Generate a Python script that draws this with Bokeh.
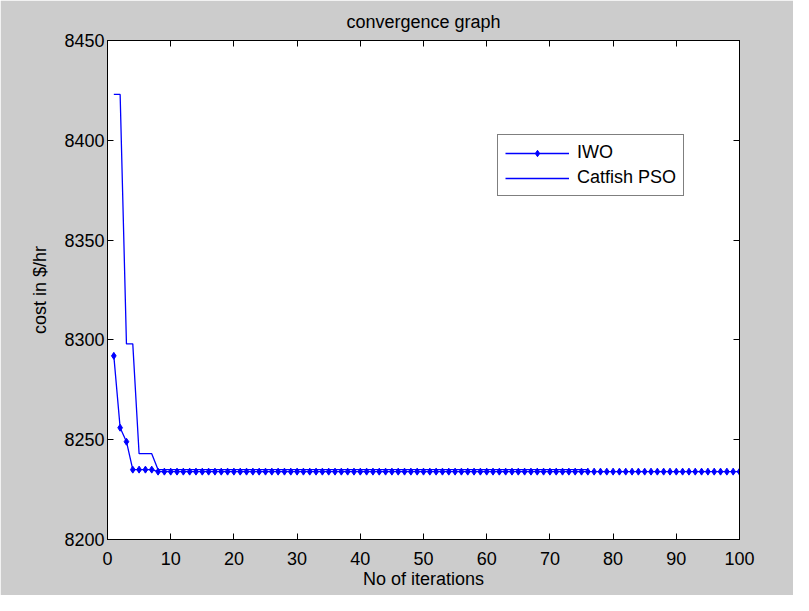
from bokeh.plotting import figure
from bokeh.models import LinearAxis, Legend, LegendItem, FixedTicker, Range1d
from bokeh.embed import file_html
from bokeh.resources import INLINE

# Data
iwo_iter = list(range(1, 101))
iwo_cost = [8292, 8256, 8249, 8235, 8235, 8235, 8235] + [8234] * 93

pso_iter = list(range(1, 77))
pso_cost = [8423, 8423, 8298, 8298, 8243, 8243, 8243] + [8235] * 69

x_ticks = [0, 10, 20, 30, 40, 50, 60, 70, 80, 90, 100]
y_ticks = [8200, 8250, 8300, 8350, 8400, 8450]

FONT = "Liberation Sans"
GRAY = "#cccccc"
BLUE = "#0000ff"

p = figure(width=793, height=595, output_backend="svg", toolbar_location=None,
           x_range=Range1d(0, 100), y_range=Range1d(8200, 8450),
           min_border_left=107, min_border_right=54, min_border_top=40, min_border_bottom=56,
           background_fill_color="white", border_fill_color=GRAY,
           outline_line_color="black", outline_line_width=1)

p.title.text = "convergence graph"
p.title.align = "center"
p.title.text_font = FONT
p.title.text_font_size = "18px"
p.title.text_font_style = "normal"
p.title.text_color = "black"
p.title.standoff = 17

p.grid.visible = False

for ax in (p.xaxis[0], p.yaxis[0]):
    ax.major_tick_in = 6
    ax.major_tick_out = 0
    ax.minor_tick_line_color = None
    ax.major_label_text_font = FONT
    ax.major_label_text_font_size = "18px"
    ax.major_label_text_color = "black"
    ax.axis_label_text_font = FONT
    ax.axis_label_text_font_size = "18px"
    ax.axis_label_text_font_style = "normal"
    ax.axis_label_text_color = "black"
    ax.axis_line_color = "black"
    ax.major_tick_line_color = "black"

p.xaxis[0].ticker = FixedTicker(ticks=x_ticks)
p.yaxis[0].ticker = FixedTicker(ticks=y_ticks)
p.xaxis[0].axis_label = "No of iterations"
p.yaxis[0].axis_label = "cost in $/hr"
p.xaxis[0].major_label_standoff = 12
p.yaxis[0].major_label_standoff = 3
p.xaxis[0].axis_label_standoff = 1
p.yaxis[0].axis_label_standoff = 11

# box-style ticks on the top and right edges, without labels
top = LinearAxis(ticker=FixedTicker(ticks=x_ticks), major_tick_in=6, major_tick_out=0,
                 minor_tick_line_color=None, major_label_text_color=None,
                 major_label_text_font_size="1px", major_label_standoff=0,
                 axis_line_color="black")
right = LinearAxis(ticker=FixedTicker(ticks=y_ticks), major_tick_in=6, major_tick_out=0,
                   minor_tick_line_color=None, major_label_text_color=None,
                   major_label_text_font_size="1px", major_label_standoff=0,
                   axis_line_color="black")
p.add_layout(top, "above")
p.add_layout(right, "right")

r_iwo_line = p.line(iwo_iter, iwo_cost, line_color=BLUE, line_width=1.3)
r_iwo_pts = p.scatter(iwo_iter, iwo_cost, marker="diamond", size=7,
                      fill_color=BLUE, line_color=BLUE)
r_pso = p.line(pso_iter, pso_cost, line_color=BLUE, line_width=1.3)

legend = Legend(items=[LegendItem(label="IWO", renderers=[r_iwo_line, r_iwo_pts]),
                       LegendItem(label="Catfish PSO", renderers=[r_pso])],
                location=(390, 343), orientation="vertical",
                border_line_color="black", border_line_width=1,
                background_fill_color="white", background_fill_alpha=1,
                label_text_font=FONT, label_text_font_size="18px",
                glyph_width=64, glyph_height=16, spacing=4, padding=7, margin=0,
                label_standoff=8)
legend.label_text_color = "black"
p.add_layout(legend, "center")

open("out.html", "w").write(file_html(p, INLINE))
